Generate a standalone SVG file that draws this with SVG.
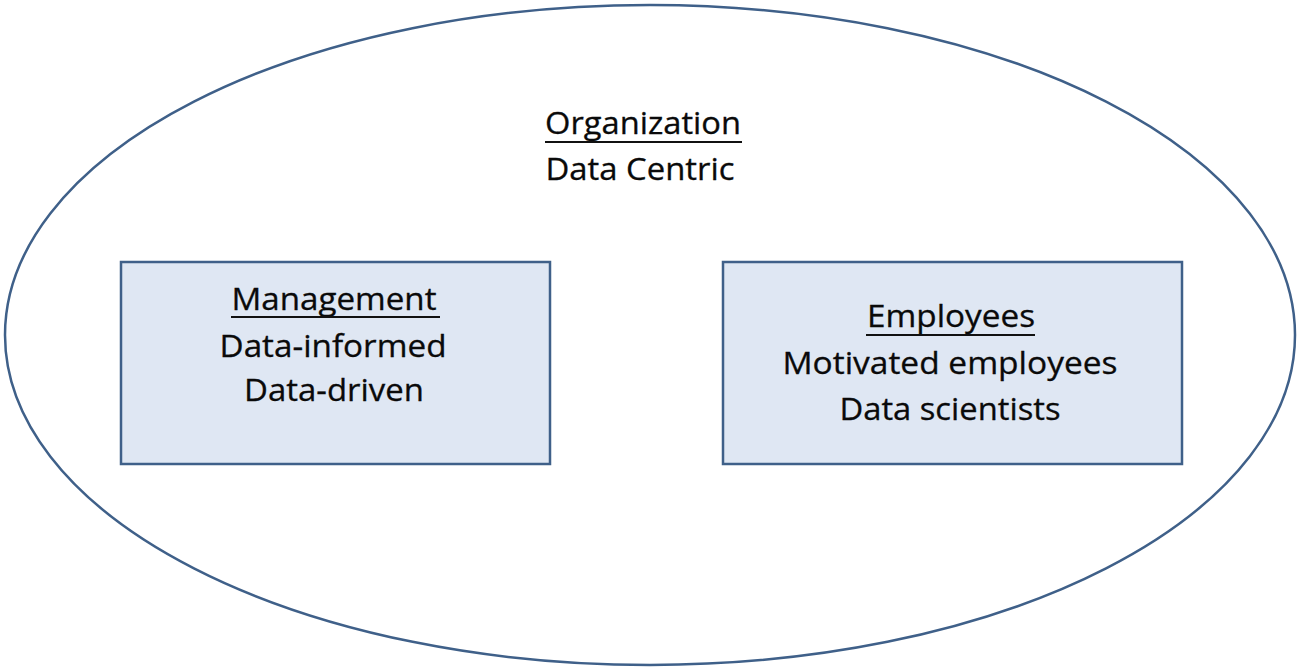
<svg xmlns="http://www.w3.org/2000/svg" width="1300" height="670" viewBox="0 0 1300 670">
  <style>
    .outline { fill: #ffffff; stroke: #3f6089; stroke-width: 2.5; }
    .box { fill: #dfe7f3; stroke: #3f6089; stroke-width: 2.5; }
    .label { font-family: "Open Sans", "Liberation Sans", sans-serif; font-size: 31px; fill: #0a0a0a; stroke: #0a0a0a; stroke-width: 0.3; text-anchor: middle; }
    .uline { stroke: #111111; stroke-width: 2; }
  </style>
  <rect x="0" y="0" width="1300" height="670" fill="#ffffff"/>
  <g id="organization">
    <ellipse class="outline" cx="650" cy="335" rx="645" ry="330"/>
    <text class="label" x="643" y="134" textLength="196" lengthAdjust="spacingAndGlyphs">Organization</text>
    <line class="uline" x1="545" y1="142" x2="742" y2="142"/>
    <text class="label" x="640" y="180" textLength="189" lengthAdjust="spacingAndGlyphs">Data Centric</text>
  </g>
  <g id="management">
    <rect class="box" x="121" y="262" width="429" height="202"/>
    <text class="label" x="334" y="310" textLength="205" lengthAdjust="spacingAndGlyphs">Management</text>
    <line class="uline" x1="231" y1="317" x2="440" y2="317"/>
    <text class="label" x="333" y="357" textLength="227" lengthAdjust="spacingAndGlyphs">Data-informed</text>
    <text class="label" x="334" y="401" textLength="180" lengthAdjust="spacingAndGlyphs">Data-driven</text>
  </g>
  <g id="employees">
    <rect class="box" x="723" y="262" width="459" height="202"/>
    <text class="label" x="951" y="327" textLength="168" lengthAdjust="spacingAndGlyphs">Employees</text>
    <line class="uline" x1="866" y1="335" x2="1035" y2="335"/>
    <text class="label" x="950" y="374" textLength="335" lengthAdjust="spacingAndGlyphs">Motivated employees</text>
    <text class="label" x="950" y="420" textLength="221" lengthAdjust="spacingAndGlyphs">Data scientists</text>
  </g>
  <g id="connectors"></g>
</svg>
